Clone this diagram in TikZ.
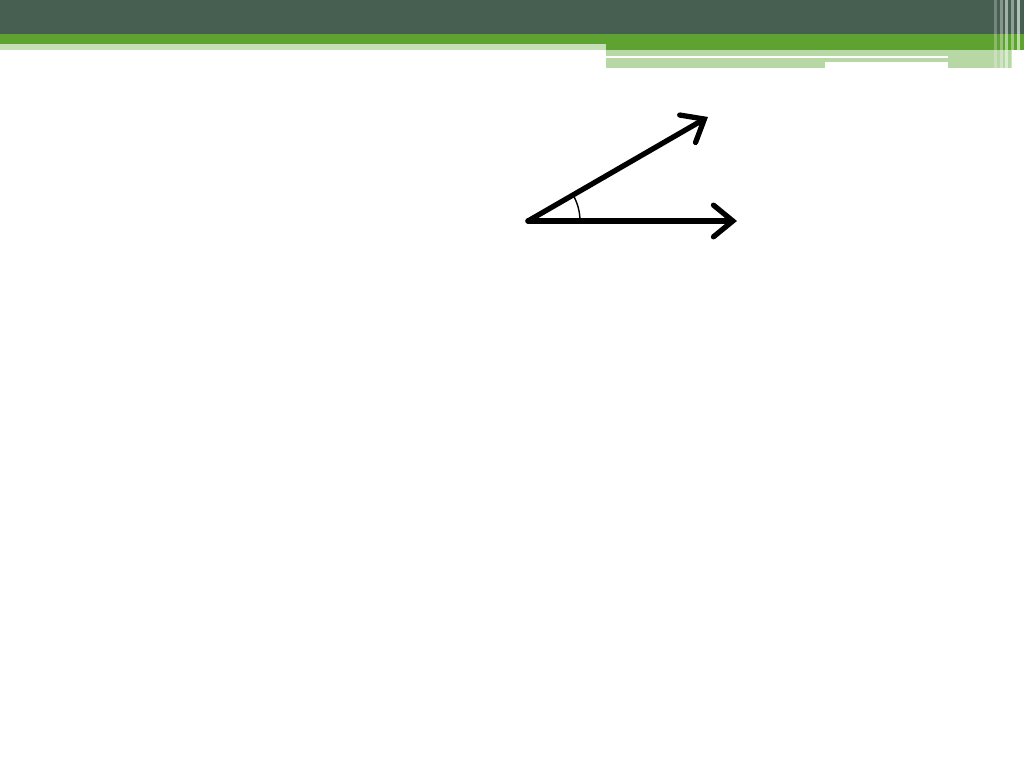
\documentclass[tikz,border=0pt]{standalone}
\usepackage{amssymb,amsmath}
\usepackage{tikz}
\usetikzlibrary{arrows.meta}
\definecolor{bandDark}{HTML}{475F51}
\definecolor{bandGreen}{HTML}{5EA332}
\definecolor{bandLight}{HTML}{B7D7A4}
\begin{document}
\begin{tikzpicture}[x=0.01cm, y=-0.01cm,
    vec/.style={line width=1.5pt, line cap=round, -{Straight Barb[length=5.5pt, width=9pt, line width=1.5pt, line cap=round]}}]
    \useasboundingbox (0,0) rectangle (1024,768);
    % 上の帯
    \fill[bandDark] (0,0) rectangle (1024,34);
    \fill[bandGreen] (0,34) rectangle (1024,44);
    \fill[bandGreen] (606,44) rectangle (1024,50);
    \fill[bandLight!80!white] (0,44) rectangle (606,50);
    \fill[bandLight] (606,50) rectangle (1012,62);
    \fill[bandLight] (606,62) rectangle (825,68);
    \fill[white] (606,56) rectangle (948,58);
    \fill[bandLight] (948,50) rectangle (1012,68);
    % 右端の縦線
    \foreach \xx/\op in {994/0.25, 1000/0.35, 1005/0.5, 1011/0.4, 1017/0.6}
        \fill[white, opacity=\op] (\xx,0) rectangle ++(2.5,68);
    % ベクトル
    \coordinate (O) at (528,221);
    \coordinate (A) at (708,117);
    \coordinate (B) at (737,221);
    \draw[vec] (O)--(A);
    \draw[vec] (O)--(B);
    \draw[line width=0.4pt] (O) ++(52,0) arc (0:-30:52);%角度
\end{tikzpicture}
\end{document}
